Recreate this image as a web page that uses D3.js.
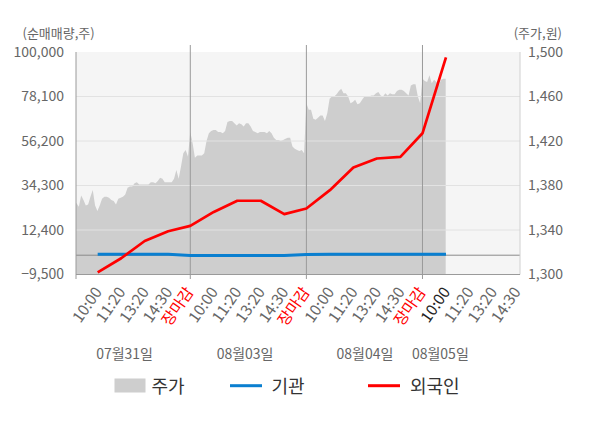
<!DOCTYPE html>
<html><head><meta charset="utf-8">
<script src="https://cdn.jsdelivr.net/npm/d3@7"></script>
<style>html,body{margin:0;padding:0;background:#fff;}svg{display:block;font-family:"Noto Sans CJK KR","Noto Sans",sans-serif;}</style>
</head><body><div id="chart"></div>
<script>
// ---------- data ----------
const timeLabels = ["10:00","11:20","13:20","14:30","장마감","10:00","11:20","13:20","14:30","장마감","10:00","11:20","13:20","14:30","장마감","10:00","11:20","13:20","14:30"];
const dateLabels = ["07월31일","08월03일","08월04일","08월05일"];
const leftTicks = [-9500, 12400, 34300, 56200, 78100, 100000];
const rightTicks = [1300, 1340, 1380, 1420, 1460, 1500];
// 외국인 / 기관 net buying (shares) at each label point (first 16 labels)
const foreign = [-8500, -1500, 7000, 11800, 14400, 21300, 26800, 26800, 20200, 23000, 32000, 43200, 47600, 48400, 60000, 97400];
const institution = [500, 500, 500, 500, -200, -200, -200, -200, -200, 400, 500, 500, 500, 500, 500, 500];
// 주가 (KRW), sampled every 1/10 of a label step from the first day's open
const price = [
1365,1364,1361,1371,1367,1362,1363,1370,1376,1362,
1357,1362,1368,1370,1370,1369,1367,1366,1363,1368,
1369,1370,1372,1378,1379,1379,1382,1383,1381,1381,
1381,1381,1381,1383,1383,1382,1384,1387,1386,1383,
1383,1383,1383,1386,1394,1386,1397,1409,1412,1406,
1428,1418,1405,1407,1407,1407,1409,1420,1427,1429,
1430,1430,1428,1428,1427,1429,1437,1438,1438,1436,
1434,1436,1435,1433,1436,1436,1433,1429,1428,1427,
1428,1428,1428,1427,1429,1427,1423,1421,1421,1420,
1421,1422,1423,1423,1415,1413,1412,1411,1412,1409,
1454,1448,1448,1440,1439,1441,1443,1443,1438,1445,
1458,1460,1460,1462,1465,1467,1463,1463,1460,1454,
1455,1457,1453,1454,1457,1460,1460,1460,1461,1461,
1463,1464,1461,1460,1463,1461,1463,1462,1462,1465,
1466,1466,1465,1463,1461,1470,1471,1471,1460,1454,
1476,1474,1473,1479,1472,1475,1473,1470,1475,1476,1476
];

// ---------- layout ----------
const W = 600, H = 428;
const L = 76, R = 520, T = 52, B = 274.5;
const perDay = 5, priceStep = 0.1, innerStep = 1.012;
const dateLabelAt = [2.17, 7.36, 12.52, 15.77];
const C = {bg:"#f5f5f5", area:"#cecece", grid:"#e2e2e2", zero:"#8a8a8a", sep:"#9a9a9a",
           text:"#666", red:"#ff0000", blue:"#0a7fd0", dark:"#222", legend:"#333"};

const svg = d3.select("#chart").append("svg").attr("width", W).attr("height", H);

const x = d3.scaleLinear().domain([0.078, 19.2]).range([L, R]);
const yL = d3.scaleLinear().domain([leftTicks[0], leftTicks[leftTicks.length-1]]).range([B, T]);
const yR = d3.scaleLinear().domain([rightTicks[0], rightTicks[rightTicks.length-1]]).range([B, T]);

// position (in slot units) of the i-th label point
const slotOf = i => {
  const day = Math.floor(i / perDay), k = i % perDay;
  return day * perDay + (k === perDay - 1 ? perDay : (k + 1) * innerStep);
};

svg.append("defs").append("clipPath").attr("id","plot")
  .append("rect").attr("x", L).attr("y", T).attr("width", R-L).attr("height", B-T);

// background
svg.append("rect").attr("x", L).attr("y", T).attr("width", R-L).attr("height", B-T).attr("fill", C.bg);

// price area
const area = d3.area()
  .x((d,i) => x(i*priceStep))
  .y0(B)
  .y1(d => yR(d));
svg.append("path").datum(price).attr("d", area).attr("fill", C.area).attr("clip-path","url(#plot)");

// grid lines
svg.append("g").selectAll("line").data(leftTicks.slice(1, -1)).join("line")
  .attr("x1", L).attr("x2", R).attr("y1", d => yL(d)).attr("y2", d => yL(d))
  .attr("stroke", C.grid).attr("stroke-width", 1);

// zero line
svg.append("line").attr("x1", L).attr("x2", R).attr("y1", yL(0)).attr("y2", yL(0))
  .attr("stroke", C.zero).attr("stroke-width", 1);

// axes frame
svg.append("line").attr("x1", L).attr("x2", L).attr("y1", T).attr("y2", B+4.5).attr("stroke", "#9a9a9a");
svg.append("line").attr("x1", R).attr("x2", R).attr("y1", T).attr("y2", B).attr("stroke", "#d0d0d0");
svg.append("line").attr("x1", L).attr("x2", R).attr("y1", B).attr("y2", B).attr("stroke", "#9a9a9a");

// day separators
const seps = [1,2,3].map(d => d*perDay);
svg.append("g").selectAll("line").data(seps).join("line")
  .attr("x1", d => x(d)).attr("x2", d => x(d)).attr("y1", T-7).attr("y2", B+4.5)
  .attr("stroke", C.sep).attr("stroke-width", 1);

// lines
const line = (ys) => d3.line().x((d,i) => x(slotOf(i))).y(d => ys(d));
svg.append("path").datum(institution).attr("d", line(yL)).attr("fill","none")
  .attr("stroke", C.blue).attr("stroke-width", 3);
svg.append("path").datum(foreign).attr("d", line(yL)).attr("fill","none")
  .attr("stroke", C.red).attr("stroke-width", 2.7).attr("stroke-linejoin","round");

// left axis labels
const fmt = d3.format(",");
svg.append("g").selectAll("text").data(leftTicks).join("text")
  .attr("x", L-12).attr("y", d => yL(d)).attr("dy","0.35em")
  .attr("text-anchor","end").attr("font-size", 14).attr("fill", C.text).text(d => fmt(d));
// right axis labels
svg.append("g").selectAll("text").data(rightTicks).join("text")
  .attr("x", R+8).attr("y", d => yR(d)).attr("dy","0.35em")
  .attr("text-anchor","start").attr("font-size", 14).attr("fill", C.text).text(d => fmt(d));

// axis titles
svg.append("text").attr("x", 22.5).attr("y", 38).attr("font-size", 13).attr("fill", C.text).text("(순매매량,주)");
svg.append("text").attr("x", 562).attr("y", 38).attr("text-anchor","end").attr("font-size", 13).attr("fill", C.text).text("(주가,원)");

// x labels
svg.append("g").selectAll("text").data(timeLabels).join("text")
  .attr("transform", (d,i) => `translate(${x(slotOf(i)) + (d === "장마감" ? 4 : 5)},${B+17.5}) rotate(-55)`)
  .attr("text-anchor","end").attr("font-size", 15.5)
  .attr("fill", (d,i) => d === "장마감" ? C.red : (i === 15 ? C.dark : C.text))
  .text(d => d);

// date labels
svg.append("g").selectAll("text").data(dateLabels).join("text")
  .attr("x", (d,i) => x(dateLabelAt[i])).attr("y", 359)
  .attr("text-anchor","middle").attr("font-size", 14).attr("fill", C.text).text(d => d);

// legend
const lg = svg.append("g").attr("font-size", 18).attr("fill", C.legend);
lg.append("rect").attr("x", 114.5).attr("y", 378.5).attr("width", 31).attr("height", 14).attr("fill", C.area);
lg.append("text").attr("x", 151.5).attr("y", 393).text("주가");
lg.append("line").attr("x1", 230).attr("x2", 262).attr("y1", 385.7).attr("y2", 385.7).attr("stroke", C.blue).attr("stroke-width", 3);
lg.append("text").attr("x", 271.5).attr("y", 393).text("기관");
lg.append("line").attr("x1", 368).attr("x2", 400).attr("y1", 385.7).attr("y2", 385.7).attr("stroke", C.red).attr("stroke-width", 3);
lg.append("text").attr("x", 410).attr("y", 393).text("외국인");
</script></body></html>
